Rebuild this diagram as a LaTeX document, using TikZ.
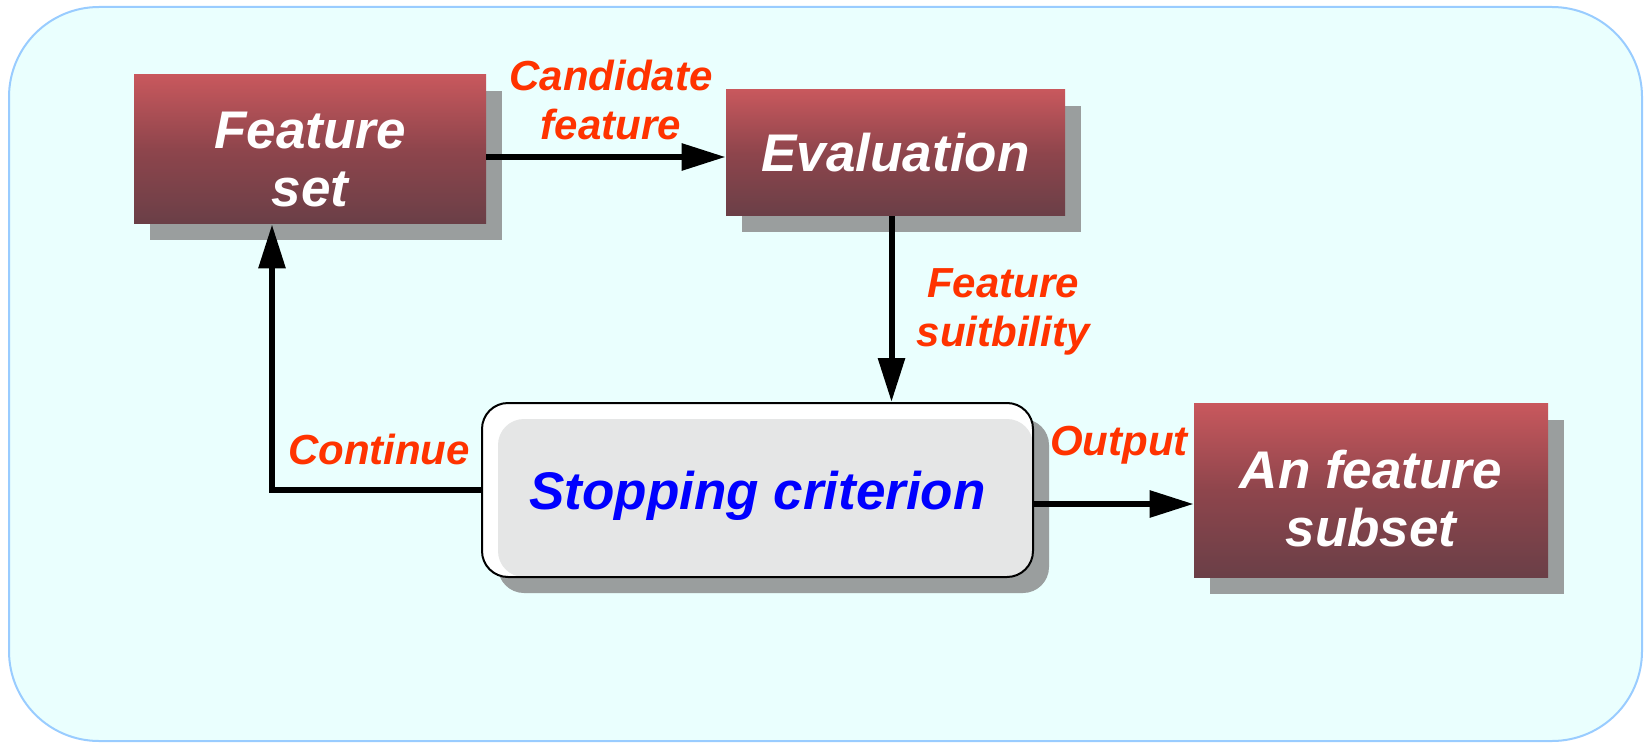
\documentclass[tikz,border=0pt]{standalone}
\usepackage{fontspec}
\setmainfont{Liberation Sans}
\usetikzlibrary{arrows.meta,shadows}
\definecolor{framefill}{HTML}{EAFFFE}
\definecolor{framedraw}{HTML}{99CCFF}
\definecolor{boxtop}{HTML}{C8585D}
\definecolor{boxmid}{HTML}{8E454C}
\definecolor{boxbot}{HTML}{6A3F47}
\definecolor{shadowc}{HTML}{9A9E9E}
\definecolor{stopgray}{HTML}{E5E6E6}
\definecolor{lblred}{HTML}{FF3300}
\definecolor{stopblue}{HTML}{0000FF}
\begin{document}
\begin{tikzpicture}[x=0.5pt,y=-0.5pt,
  boxshadow/.style={drop shadow={shadow xshift=8pt,shadow yshift=-8pt,fill=shadowc,opacity=1}},
  boxtext/.style={align=center, inner sep=0pt,
    font=\fontsize{26.5}{29}\selectfont\bfseries\itshape},
  redbox/.style={boxshadow, draw=none, top color=boxtop, bottom color=boxbot, middle color=boxmid,
    inner sep=0pt},
  stopbox/.style={boxshadow, draw=black, line width=1pt, fill=white, rounded corners=13pt,
    inner sep=0pt,
    path picture={\fill[stopgray, rounded corners=13pt]
      ([shift={(8pt,-8pt)}]path picture bounding box.north west) rectangle
      (path picture bounding box.south east);}},
  lbl/.style={text=lblred, align=center, inner sep=0pt,
    font=\fontsize{21}{24.5}\selectfont\bfseries\itshape},
  arr/.style={line width=3pt, draw=black, -{Triangle[length=22pt,width=13pt]}}]
\useasboundingbox (0,0) rectangle (1647,743);
\path[fill=framefill, draw=framedraw, line width=1pt, rounded corners=45pt]
  (9,7) rectangle (1642,741);

\node[redbox, minimum width=176pt, minimum height=74.5pt] (fs) at (310,149.5) {};
\node[boxtext, text=white] (fst) at ([yshift=-5pt]fs.center) {Feature\\set};
\node[redbox, minimum width=169.5pt, minimum height=63pt] (ev) at (895.5,153) {};
\node[boxtext, text=white] (evt) at (ev.center) {Evaluation};
\node[stopbox, minimum width=275.5pt, minimum height=87pt] (st) at (757.5,490) {};
\node[boxtext, text=stopblue] (stt) at ([yshift=-3pt]st.center) {Stopping criterion};
\node[redbox, minimum width=177pt, minimum height=87pt] (sub) at (1371,490.5) {};
\node[boxtext, text=white] (subt) at ([yshift=-4pt]sub.center) {An feature\\subset};

\draw[arr] ([yshift=-2pt]ev.west -| fs.east) -- ([yshift=-2pt]ev.west);
\draw[arr] ([xshift=-2pt]ev.south) -- ([xshift=-2pt]ev.south |- st.north);
\draw[arr] ([yshift=-7pt]st.east) -- ([yshift=-7pt]st.east -| sub.west);
\draw[arr, line join=miter] (st.west) -| ([xshift=-19pt]fs.south);

\node[lbl] (lcand) at (611,100) {Candidate\\feature};
\node[lbl] (lsuit) at (1003,312) {Feature\\suitbility};
\node[lbl] (lcont) at (379,449) {Continue};
\node[lbl] (lout) at (1119,445) {Output};
\end{tikzpicture}
\end{document}
